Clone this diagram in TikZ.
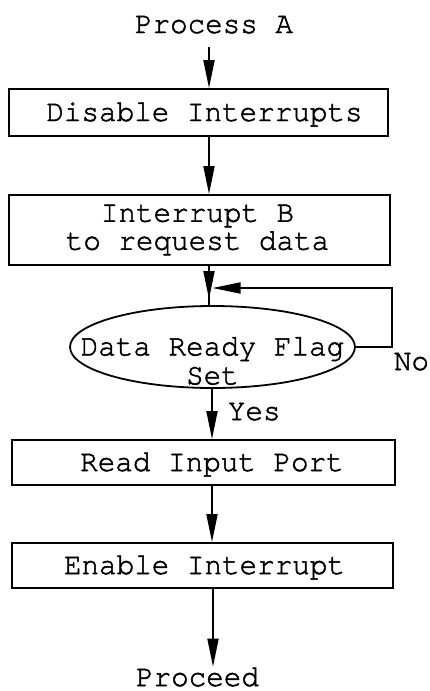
\documentclass[tikz,border=0pt]{standalone}
\usepackage{fontspec}
\usetikzlibrary{arrows.meta,shapes.geometric,calc}

% typewriter face used for every label
\newfontfamily\cursorface{texgyrecursor-regular.otf}[FakeBold=1.6,FakeStretch=0.96]
\newcommand\twfont{\cursorface\fontsize{30.5}{29}\selectfont}
\newcommand\twtight{\cursorface\fontsize{30.5}{28}\selectfont}

\begin{document}
\begin{tikzpicture}[x=1pt,y=-1pt,line width=1.8pt,
  every node/.style={font=\twfont},
  term/.style={inner sep=0pt},
  framebox/.style={draw,rectangle,inner sep=0pt},
  stepbox/.style={framebox,text height=17pt,text depth=0pt},
  decision/.style={draw,ellipse,inner sep=0pt,minimum width=285pt,minimum height=82pt},
  flow/.style={-{Triangle[length=28pt,width=11pt]}}]
\useasboundingbox[fill=white] (0,0) rectangle (430,691);

% columns followed by the vertical connectors
\coordinate (c1) at (209,0);
\coordinate (c2) at (212,0);
\coordinate (c3) at (213,0);

\node[term,anchor=base] (procA) at (214,33) {Process A};
\node[stepbox,minimum width=379pt,minimum height=47pt] (disable) at (198.5,112.5) {\hspace*{12pt}Disable Interrupts};
\node[framebox,minimum width=381pt,minimum height=70pt,
  label={[term,align=center,font=\twtight,xshift=-2pt]center:Interrupt B\\to request data}] (reqB) at (199.5,230) {};
\node[decision,label={[term,align=center,font=\twfont,yshift=-14pt]center:Data Ready Flag\\Set}] (flag) at (212.5,347) {};
\node[stepbox,minimum width=383pt,minimum height=45pt] (readport) at (203.5,462.5) {\hspace*{17pt}Read Input Port};
\node[stepbox,minimum width=381pt,minimum height=45pt] (enable) at (202.5,565.5) {\hspace*{4pt}Enable Interrupt};
\node[term,anchor=base] (proceed) at (197.5,686) {Proceed};

\node[term,anchor=base west] (no) at (393,370) {No};
\node[term,anchor=base west] (yes) at (227,420) {Yes};

% loop-back corners
\coordinate (loopTR) at (392,288);
\coordinate (join) at (212.5,288);

\draw[flow] ($(procA.south -| c1)+(0,13)$) -- (disable.north -| c1);
\draw[flow] (disable.south -| c1) -- (reqB.north -| c1);
\draw (reqB.south -| c1) -- (flag.north -| c1);
\draw[flow] (reqB.south -| c1) -- ($(flag.north -| c1)+(0,-6)$);
\draw[flow] (flag.east) -| (loopTR) -- (join);
\draw[flow] (flag.south -| c2) -- (readport.north -| c2);
\draw[flow] (readport.south -| c2) -- (enable.north -| c2);
\draw[flow] (enable.south -| c3) -- (proceed.north -| c3);
\end{tikzpicture}
\end{document}
